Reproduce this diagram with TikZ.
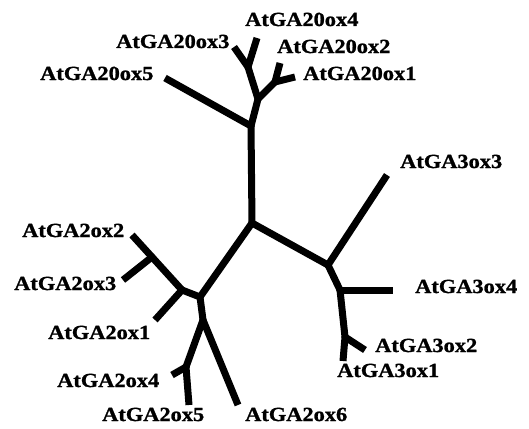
\documentclass[tikz,border=0pt]{standalone}
\usepackage{fontspec}
\newfontfamily\labfont{Liberation Serif}[UprightFont=* Bold, FakeStretch=1.12, FakeBold=1.2]
\begin{document}
\begin{tikzpicture}[x=1pt,y=-1pt,
  branch/.style={line width=7pt, line cap=butt, black},
  joint/.style={circle, fill=black, inner sep=0pt, minimum size=7pt},
  lab/.style={anchor=base west, inner sep=0pt, font=\labfont\fontsize{20}{22}\selectfont}]
\useasboundingbox (0,0) rectangle (529,428);
% internal nodes
\node[joint] (C) at (252,223) {};
\node[joint] (T) at (251,126) {};
\node[joint] (U) at (258,99) {};
\node[joint] (V) at (248,67) {};
\node[joint] (W) at (275,82) {};
\node[joint] (R) at (328,265) {};
\node[joint] (R2) at (340,290) {};
\node[joint] (R3) at (345,337) {};
\node[joint] (L) at (200,297) {};
\node[joint] (L2) at (182,290) {};
\node[joint] (L3) at (152,257) {};
\node[joint] (L4) at (203,320) {};
\node[joint] (L5) at (186,367) {};
% tips
\coordinate (t20ox5) at (165,78);
\coordinate (t20ox3) at (234,47);
\coordinate (t20ox4) at (257,38);
\coordinate (t20ox2) at (280,63);
\coordinate (t20ox1) at (295,77);
\coordinate (t3ox3) at (387,175);
\coordinate (t3ox4) at (393,290);
\coordinate (t3ox2) at (365,350);
\coordinate (t3ox1) at (343,361);
\coordinate (t2ox2) at (132,235);
\coordinate (t2ox3) at (123,280);
\coordinate (t2ox1) at (155,320);
\coordinate (t2ox6) at (238,405);
\coordinate (t2ox4) at (172,375);
\coordinate (t2ox5) at (189,405);
% branches
\draw[branch] (C.center) -- (T.center);
\draw[branch] (T.center) -- (t20ox5);
\draw[branch] (T.center) -- (U.center);
\draw[branch] (U.center) -- (V.center);
\draw[branch] (V.center) -- (t20ox3);
\draw[branch] (V.center) -- (t20ox4);
\draw[branch] (U.center) -- (W.center);
\draw[branch] (W.center) -- (t20ox2);
\draw[branch] (W.center) -- (t20ox1);
\draw[branch] (C.center) -- (R.center);
\draw[branch] (R.center) -- (t3ox3);
\draw[branch] (R.center) -- (R2.center);
\draw[branch] (R2.center) -- (t3ox4);
\draw[branch] (R2.center) -- (R3.center);
\draw[branch] (R3.center) -- (t3ox2);
\draw[branch] (R3.center) -- (t3ox1);
\draw[branch] (C.center) -- (L.center);
\draw[branch] (L.center) -- (L2.center);
\draw[branch] (L2.center) -- (L3.center);
\draw[branch] (L3.center) -- (t2ox2);
\draw[branch] (L3.center) -- (t2ox3);
\draw[branch] (L2.center) -- (t2ox1);
\draw[branch] (L.center) -- (L4.center);
\draw[branch] (L4.center) -- (t2ox6);
\draw[branch] (L4.center) -- (L5.center);
\draw[branch] (L5.center) -- (t2ox4);
\draw[branch] (L5.center) -- (t2ox5);
% labels
\node[lab] (l20ox4) at (245,26) {AtGA20ox4};
\node[lab] (l20ox3) at (116,48) {AtGA20ox3};
\node[lab] (l20ox2) at (277,53) {AtGA20ox2};
\node[lab] (l20ox5) at (40,80) {AtGA20ox5};
\node[lab] (l20ox1) at (303,80) {AtGA20ox1};
\node[lab] (l3ox3) at (400,168) {AtGA3ox3};
\node[lab] (l3ox4) at (415,293) {AtGA3ox4};
\node[lab] (l3ox2) at (375,352) {AtGA3ox2};
\node[lab] (l3ox1) at (337,377) {AtGA3ox1};
\node[lab] (l2ox2) at (22,237) {AtGA2ox2};
\node[lab] (l2ox3) at (14,290) {AtGA2ox3};
\node[lab] (l2ox1) at (48,339) {AtGA2ox1};
\node[lab] (l2ox4) at (57,387) {AtGA2ox4};
\node[lab] (l2ox5) at (102,421) {AtGA2ox5};
\node[lab] (l2ox6) at (245,421) {AtGA2ox6};
\end{tikzpicture}
\end{document}
